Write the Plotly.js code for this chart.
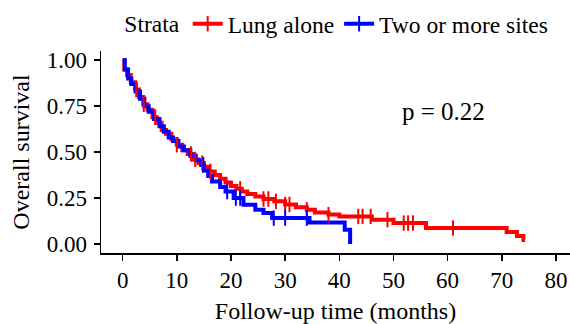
<!DOCTYPE html>
<html>
<head>
<meta charset="utf-8">
<script src="https://cdn.plot.ly/plotly-3.0.1.min.js"></script>
<style>html,body{margin:0;padding:0;background:#fff;}#chart{width:570px;height:324px;}</style>
</head>
<body>
<div id="chart"></div>
<script>
// Lung alone (red) Kaplan-Meier steps: event times and survival after each step
const lungTime = [0, 0.3, 0.8, 1.5, 2.3, 3.0, 3.8, 4.6, 5.5, 6.3, 7.2, 8.0, 9.0, 10.0, 11.0, 12.0, 13.0, 14.0, 15.0, 16.0, 17.0, 18.0, 19.0, 20.0, 21.0, 22.0, 23.0, 24.5, 26.0, 28.0, 30.0, 32.0, 34.0, 35.5, 38.0, 40.0, 46.0, 50.0, 56.0, 70.9, 72.8, 74.0];
const lungSurv = [1.0, 0.95, 0.92, 0.88, 0.84, 0.80, 0.76, 0.73, 0.69, 0.66, 0.62, 0.60, 0.57, 0.54, 0.51, 0.49, 0.46, 0.44, 0.42, 0.395, 0.375, 0.355, 0.335, 0.315, 0.30, 0.285, 0.272, 0.258, 0.245, 0.232, 0.215, 0.20, 0.186, 0.172, 0.16, 0.15, 0.132, 0.114, 0.087, 0.065, 0.043, 0.022];
const lungEnd = 74.3;
const lungCensor = [2.5, 3.9, 6.0, 10.0, 12.6, 13.4, 14.7, 16.2, 21.7, 26.0, 26.9, 28.3, 30.0, 30.8, 34.0, 38.0, 43.5, 44.3, 45.8, 48.9, 51.9, 52.7, 53.6, 61.0];

// Two or more sites (blue)
const multiTime = [0, 0.4, 1.0, 1.6, 2.4, 3.2, 4.0, 4.8, 5.8, 6.8, 7.6, 8.5, 9.3, 10.3, 11.3, 12.5, 13.5, 14.5, 15.0, 15.8, 16.5, 18.0, 19.0, 20.5, 22.3, 24.5, 26.0, 27.6, 34.5, 41.0, 42.0];
const multiSurv = [1.0, 0.95, 0.90, 0.87, 0.83, 0.79, 0.75, 0.72, 0.68, 0.64, 0.61, 0.58, 0.56, 0.53, 0.51, 0.48, 0.455, 0.43, 0.40, 0.37, 0.34, 0.31, 0.285, 0.25, 0.213, 0.186, 0.168, 0.141, 0.117, 0.078, 0.0];
const multiEnd = 42.0;
const multiCensor = [14.9, 19.3, 20.9, 21.7, 27.9, 30.0, 34.0];

const strataNames = ["Lung alone", "Two or more sites"];
const strataColors = ["#FF0000", "#0000FF"];
const pText = "p = 0.22";

function stepAt(times, surv, t) {
  let s = surv[0];
  for (let i = 0; i < times.length; i++) { if (times[i] <= t) s = surv[i]; }
  return s;
}
function withEnd(times, surv, end) {
  const x = times.slice(), y = surv.slice();
  if (end > x[x.length - 1]) { x.push(end); y.push(y[y.length - 1]); }
  return {x, y};
}
function censorTrace(times, surv, cens, name, color) {
  const x = [], y = [];
  cens.forEach(function (t) { x.push(t, null); y.push(stepAt(times, surv, t), null); });
  return {
    x: x, y: y, name: name, type: 'scatter', mode: 'lines+markers', connectgaps: false,
    line: {color: color, width: 4},
    marker: {symbol: 'line-ns', size: 11, line: {color: color, width: 2}, color: color},
    hoverinfo: 'skip'
  };
}
const lung = withEnd(lungTime, lungSurv, lungEnd);
const multi = withEnd(multiTime, multiSurv, multiEnd);

const data = [
  {x: lung.x, y: lung.y, type: 'scatter', mode: 'lines', line: {shape: 'hv', color: strataColors[0], width: 4}, showlegend: false, name: strataNames[0]},
  {x: multi.x, y: multi.y, type: 'scatter', mode: 'lines', line: {shape: 'hv', color: strataColors[1], width: 4}, showlegend: false, name: strataNames[1]},
  censorTrace(lungTime, lungSurv, lungCensor, strataNames[0], strataColors[0]),
  censorTrace(multiTime, multiSurv, multiCensor, strataNames[1], strataColors[1])
];

const fam = '"Liberation Serif", "Times New Roman", serif';
const tickFont = {family: fam, color: '#000', size: 23};
const titleFont = {family: fam, color: '#000', size: 24};
const legFont = {family: fam, color: '#000', size: 23.5};
const layout = {
  width: 570, height: 324,
  margin: {l: 101, r: 0, t: 51, b: 71},
  paper_bgcolor: '#fff', plot_bgcolor: '#fff',
  font: tickFont,
  showlegend: true,
  legend: {
    orientation: 'h', x: 0.505, xanchor: 'center', y: 1.025, yanchor: 'bottom',
    title: {text: 'Strata', side: 'left', font: legFont},
    font: legFont, itemwidth: 30, tracegroupgap: 0, bgcolor: 'rgba(0,0,0,0)'
  },
  xaxis: {
    range: [-4, 82.6], tickvals: [0, 10, 20, 30, 40, 50, 60, 70, 80],
    showgrid: false, zeroline: false, showline: true, linecolor: '#000', linewidth: 1.5,
    ticks: 'outside', ticklen: 6, tickwidth: 1.5, tickcolor: '#000',
    ticklabelstandoff: 0,
    tickfont: tickFont,
    title: {text: 'Follow-up time (months)', font: titleFont, standoff: 10}
  },
  yaxis: {
    range: [-0.049, 1.05], tickvals: [0, 0.25, 0.5, 0.75, 1.0], tickformat: '.2f',
    showgrid: false, zeroline: false, showline: true, linecolor: '#000', linewidth: 1.5,
    ticks: 'outside', ticklen: 6, tickwidth: 1.5, tickcolor: '#000',
    ticklabelstandoff: 2,
    tickfont: tickFont,
    title: {text: 'Overall survival', font: titleFont, standoff: 10}
  },
  annotations: [{x: 59.2, y: 0.72, xref: 'x', yref: 'y', text: pText, showarrow: false, font: {family: fam, size: 25, color: '#000'}}]
};
Plotly.newPlot('chart', data, layout, {displayModeBar: false, staticPlot: true});
</script>
</body>
</html>
